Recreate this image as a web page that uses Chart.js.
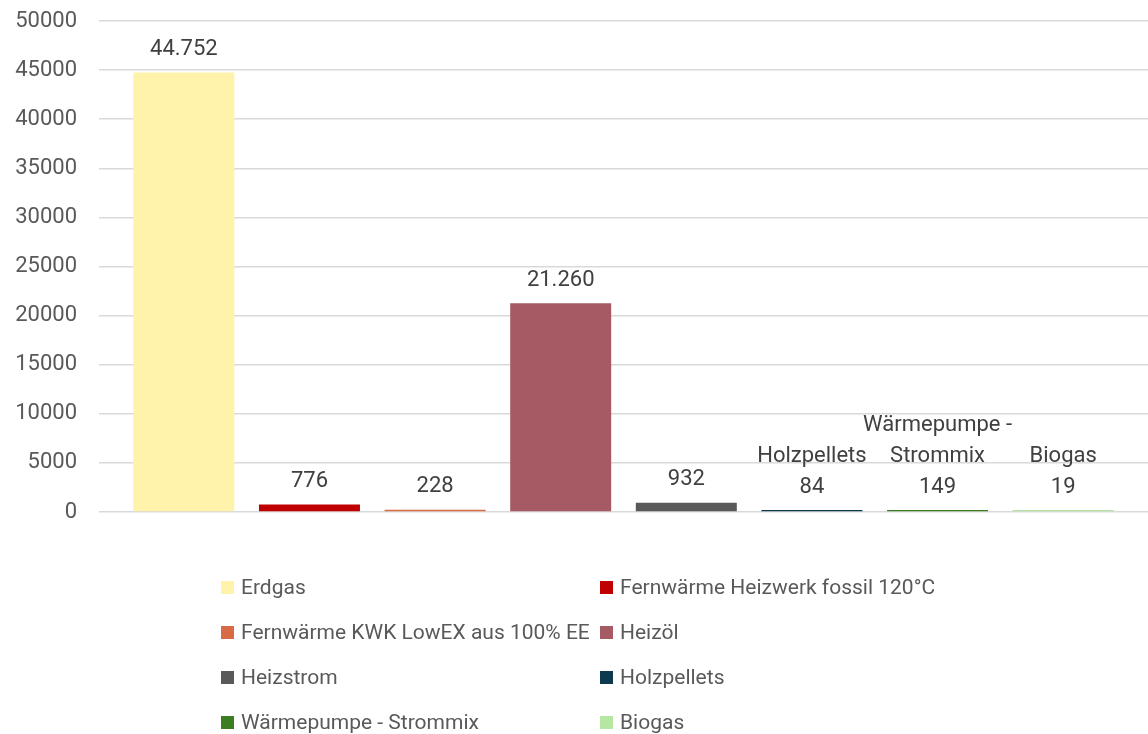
<!DOCTYPE html>
<html>
<head>
<meta charset="utf-8">
<script src="https://cdn.jsdelivr.net/npm/chart.js@4"></script>
<style>
  html, body { margin: 0; padding: 0; background: #fff; }
  #wrap { width: 1148px; height: 734px; position: relative; }
</style>
</head>
<body>
<div id="wrap"><canvas id="myChart"></canvas></div>
<script>
const series = [
  "Erdgas",
  "Fernwärme Heizwerk fossil 120°C",
  "Fernwärme KWK LowEX aus 100% EE",
  "Heizöl",
  "Heizstrom",
  "Holzpellets",
  "Wärmepumpe - Strommix",
  "Biogas",
];

const values = [44752, 776, 228, 21260, 932, 84, 149, 19];

const colors = [
  "#FFF2AB",
  "#C00000",
  "#D86B45",
  "#A65A63",
  "#595959",
  "#0E3A50",
  "#3B7D23",
  "#B5E6A2",
];

// bars whose data label also shows the series name
const namedLabels = ["Holzpellets", "Wärmepumpe - Strommix", "Biogas"];

const yMin = 0;
const yMax = 50000;
const yStep = 5000;

const FONT = "Roboto, 'Liberation Sans', Arial, sans-serif";

const fmt = (v) => String(v).replace(/\B(?=(\d{3})+(?!\d))/g, ".");

const wrapText = (ctx, text, maxWidth) => {
  const words = text.split(" ");
  const lines = [];
  let line = "";
  for (let i = 0; i < words.length; i++) {
    const test = line ? line + " " + words[i] : words[i];
    if (line && ctx.measureText(test).width > maxWidth) {
      lines.push(line);
      line = words[i];
    } else {
      line = test;
    }
  }
  if (line) lines.push(line);
  return lines;
};

const barLabels = {
  id: "barLabels",
  afterDatasetsDraw(chart) {
    const ctx = chart.ctx;
    ctx.save();
    ctx.font = "22px " + FONT;
    ctx.fillStyle = "#404040";
    ctx.textAlign = "center";
    ctx.textBaseline = "middle";
    chart.data.datasets.forEach((ds, i) => {
      const bar = chart.getDatasetMeta(i).data[0];
      let lines = [fmt(ds.data[0])];
      if (namedLabels.includes(ds.label)) {
        lines = wrapText(ctx, ds.label, 160).concat(lines);
      }
      const base = Math.min(bar.y, bar.base) - 23;
      for (let j = 0; j < lines.length; j++) {
        const y = base - (lines.length - 1 - j) * 31;
        ctx.fillText(lines[j], bar.x, y);
      }
    });
    ctx.restore();
  },
};

const gridLegend = {
  id: "gridLegend",
  afterDraw(chart) {
    const ctx = chart.ctx;
    const cols = [221, 600];
    const top = 588;
    const rowGap = 45;
    ctx.save();
    ctx.font = "21px " + FONT;
    ctx.textBaseline = "middle";
    ctx.textAlign = "left";
    chart.data.datasets.forEach((ds, i) => {
      const x = cols[i % 2];
      const y = top + Math.floor(i / 2) * rowGap;
      ctx.fillStyle = ds.backgroundColor;
      ctx.fillRect(x, y - 7, 13, 13);
      ctx.fillStyle = "#595959";
      ctx.fillText(ds.label, x + 20, y + 1);
    });
    ctx.restore();
  },
};

const datasets = [];
for (let i = 0; i < series.length; i++) {
  datasets.push({
    label: series[i],
    data: [values[i]],
    backgroundColor: colors[i],
    minBarLength: 2,
  });
}

const ctx = document.getElementById("myChart");

const chart = new Chart(ctx, {
  type: "bar",
  data: {
    labels: [""],
    datasets: datasets,
  },
  options: {
    responsive: true,
    maintainAspectRatio: false,
    animation: false,
    categoryPercentage: 0.958,
    barPercentage: 0.804,
    layout: {
      padding: { top: 21, bottom: 222, left: 0, right: 0 },
    },
    plugins: {
      legend: { display: false },
      tooltip: { enabled: false },
    },
    scales: {
      x: {
        display: false,
      },
      y: {
        min: yMin,
        max: yMax,
        afterFit: (scale) => {
          scale.width = 99;
          scale.paddingTop = 0;
          scale.paddingBottom = 0;
        },
        ticks: {
          stepSize: yStep,
          padding: 22,
          color: "#595959",
          font: { family: FONT, size: 22 },
          callback: (value) => String(value),
        },
        grid: {
          color: "#d9d9d9",
          lineWidth: 1.5,
          drawTicks: false,
        },
        border: { display: false },
      },
    },
  },
  plugins: [barLabels, gridLegend],
});
</script>
</body>
</html>
